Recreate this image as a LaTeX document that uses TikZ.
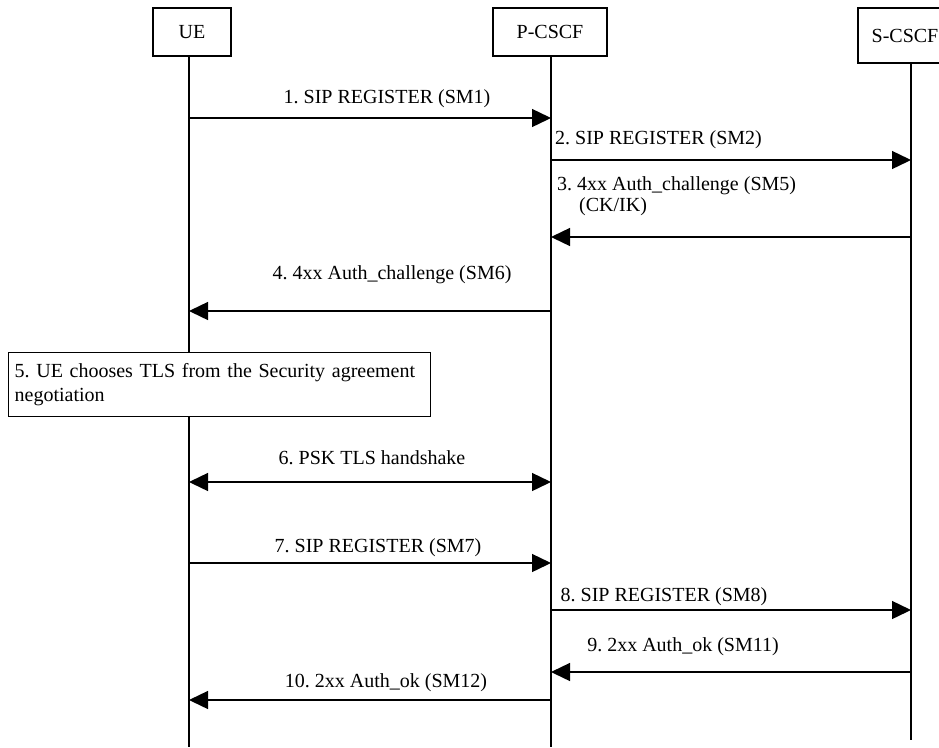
\documentclass[tikz,border=0pt]{standalone}
\usepackage{fontspec}
\setmainfont{Liberation Serif}
\usetikzlibrary{arrows.meta}
\begin{document}
\frenchspacing
\begin{tikzpicture}[x=1pt,y=-1pt,
  txt/.style={font=\fontsize{20}{21}\selectfont, inner sep=0pt},
  actor/.style={draw, line width=1.4pt, fill=white, inner sep=0pt,
    font=\fontsize{20}{21}\selectfont},
  life/.style={line width=1.4pt},
  msg/.style={line width=1.4pt, -{Triangle[length=19pt,width=18pt]}},
  both/.style={line width=1.4pt, {Triangle[length=19pt,width=18pt]}-{Triangle[length=19pt,width=18pt]}},
  note/.style={draw, line width=1.4pt, fill=white, inner sep=0pt,
    font=\fontsize{20}{24}\selectfont, align=left}]
\fill[white] (0,0) rectangle (939,747);
\useasboundingbox (0,0) rectangle (939,747);
\clip (0,0) rectangle (939,747);

% participants
\node[actor, minimum width=78pt, minimum height=48pt] (ue) at (192,32) {UE};
\node[actor, minimum width=114pt, minimum height=48pt] (pcscf) at (550,32) {P-CSCF};
\node[actor, minimum width=94pt, minimum height=55pt] (scscf) at (905,35.5) {S-CSCF};

% lifelines
\coordinate (ueT) at (189,56);   \coordinate (ueB) at (189,747);
\coordinate (pT)  at (551,56);   \coordinate (pB)  at (551,747);
\coordinate (sT)  at (911,63);   \coordinate (sB)  at (911,740);
\draw[life] (ueT) -- (ueB);
\draw[life] (pT) -- (pB);
\draw[life] (sT) -- (sB);

% message rows
\coordinate (r1) at (0,118);
\coordinate (r2) at (0,160);
\coordinate (r3) at (0,237);
\coordinate (r4) at (0,311);
\coordinate (r6) at (0,482);
\coordinate (r7) at (0,563);
\coordinate (r8) at (0,610);
\coordinate (r9) at (0,672);
\coordinate (r10) at (0,700);

\draw[msg] (ueT |- r1) -- (pT |- r1);
\node[txt] (l1) at (387,99) {1. SIP REGISTER (SM1)};

\draw[msg] (pT |- r2) -- (sT |- r2);
\node[txt, anchor=west] (l2) at (555,140) {2. SIP REGISTER (SM2)};

\draw[msg] (sT |- r3) -- (pT |- r3);
\node[txt, anchor=west] (l3a) at (557,186) {3. 4xx Auth\_challenge (SM5)};
\node[txt, anchor=west] (l3b) at (579,207) {(CK/IK)};

\draw[msg] (pT |- r4) -- (ueT |- r4);
\node[txt] (l4) at (392,275) {4. 4xx Auth\_challenge (SM6)};

% local step at the UE
\node[note, anchor=north west, minimum width=422pt, minimum height=64pt,
  text width=410pt] (s5) at (8,352)
  {5. UE chooses TLS from the Security agreement\\negotiation};

\draw[both] (ueT |- r6) -- (pT |- r6);
\node[txt] (l6) at (372,458) {6. PSK TLS handshake};

\draw[msg] (ueT |- r7) -- (pT |- r7);
\node[txt] (l7) at (378,548) {7. SIP REGISTER (SM7)};

\draw[msg] (pT |- r8) -- (sT |- r8);
\node[txt] (l8) at (664,597) {8. SIP REGISTER (SM8)};

\draw[msg] (sT |- r9) -- (pT |- r9);
\node[txt] (l9) at (683,647) {9. 2xx Auth\_ok (SM11)};

\draw[msg] (pT |- r10) -- (ueT |- r10);
\node[txt] (l10) at (386,683) {10. 2xx Auth\_ok (SM12)};
\end{tikzpicture}
\end{document}
